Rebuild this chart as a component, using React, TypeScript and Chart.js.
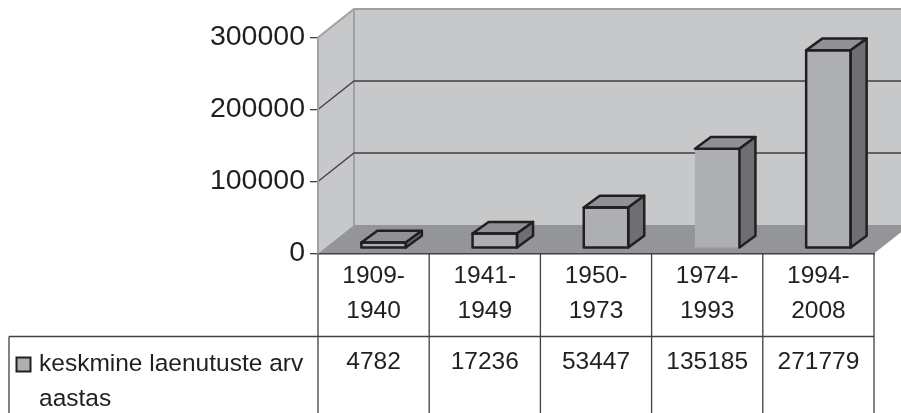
import React, { useEffect, useRef } from "react";
import { Chart, registerables } from "chart.js";

Chart.register(...registerables);

const categories: string[][] = [
  ["1909-", "1940"],
  ["1941-", "1949"],
  ["1950-", "1973"],
  ["1974-", "1993"],
  ["1994-", "2008"],
];
const seriesName: string[] = ["keskmine laenutuste arv", "aastas"];
const seriesValues: number[] = [4782, 17236, 53447, 135185, 271779];
const yTicks: number[] = [0, 100000, 200000, 300000];

const FONT = '"Liberation Sans", Arial, sans-serif';
const INK = "#231f20";
const LINE = "#414042";
const WALL = "#c7c8ca";
const WALL_EDGE = "#a0a1a4";
const FLOOR = "#939598";
const FRONT = "#adafb2";
const TOP = "#8f9195";
const SIDE = "#6d6f72";

const WALL_DX = 36;
const WALL_DY = -28.5;
const BAR_DX = 16;
const BAR_DY = -11.7;
const BAR_SHIFT_X = 10;
const BAR_BASE_UP = 6;
const BAR_TOP_UP = 7.5;
const OPEN_FRONT_BAR = 3;

const poly = (ctx: CanvasRenderingContext2D, pts: number[][]) => {
  ctx.beginPath();
  pts.forEach(([x, y], i) => (i ? ctx.lineTo(x, y) : ctx.moveTo(x, y)));
  ctx.closePath();
};

const scene = {
  id: "scene",
  beforeDraw(chart: any) {
    const { ctx, chartArea: a, scales } = chart;
    const W = chart.width;
    const y = scales.y;
    const top = y.getPixelForValue(300000);
    const bot = y.getPixelForValue(0);
    ctx.save();
    ctx.fillStyle = "#ffffff";
    ctx.fillRect(0, 0, W, chart.height);
    // back wall + left wall
    ctx.fillStyle = WALL;
    ctx.fillRect(a.left + WALL_DX, top + WALL_DY, W - a.left - WALL_DX, bot - top);
    poly(ctx, [
      [a.left, top],
      [a.left + WALL_DX, top + WALL_DY],
      [a.left + WALL_DX, bot + WALL_DY],
      [a.left, bot],
    ]);
    ctx.fill();
    // floor
    ctx.fillStyle = FLOOR;
    poly(ctx, [
      [a.left, bot],
      [a.left + WALL_DX, bot + WALL_DY],
      [W + 5, bot + WALL_DY],
      [a.right + WALL_DX, bot + WALL_DY],
      [a.right, bot],
    ]);
    ctx.fill();
    // wall edges
    ctx.strokeStyle = WALL_EDGE;
    ctx.lineWidth = 2;
    ctx.beginPath();
    ctx.moveTo(a.left, top);
    ctx.lineTo(a.left + WALL_DX, top + WALL_DY);
    ctx.lineTo(W, top + WALL_DY);
    ctx.moveTo(a.left + WALL_DX, top + WALL_DY);
    ctx.lineTo(a.left + WALL_DX, bot + WALL_DY);
    ctx.stroke();
    // gridlines on the walls
    ctx.lineWidth = 1.3;
    ctx.strokeStyle = LINE;
    yTicks.slice(1, -1).forEach((v) => {
      const p = y.getPixelForValue(v);
      ctx.beginPath();
      ctx.moveTo(a.left, p);
      ctx.lineTo(a.left + WALL_DX, p + WALL_DY);
      ctx.lineTo(W, p + WALL_DY);
      ctx.stroke();
    });
    ctx.restore();
  },
  afterDatasetsDraw(chart: any) {
    const { ctx, scales } = chart;
    const y = scales.y;
    const meta = chart.getDatasetMeta(0);
    const base = y.getPixelForValue(0) - BAR_BASE_UP;
    ctx.save();
    ctx.lineJoin = "round";
    ctx.strokeStyle = INK;
    ctx.lineWidth = 2.5;
    meta.data.forEach((bar: any, i: number) => {
      const half = bar.width / 2;
      const l = bar.x + BAR_SHIFT_X - half;
      const r = bar.x + BAR_SHIFT_X + half;
      const t = y.getPixelForValue(seriesValues[i]) - BAR_TOP_UP;
      const topFace = [
        [l, t],
        [l + BAR_DX, t + BAR_DY],
        [r + BAR_DX, t + BAR_DY],
        [r, t],
      ];
      const sideFace = [
        [r, t],
        [r + BAR_DX, t + BAR_DY],
        [r + BAR_DX, base + BAR_DY],
        [r, base],
      ];
      ctx.fillStyle = FRONT;
      ctx.fillRect(l, t, r - l, base - t);
      ctx.fillStyle = TOP;
      poly(ctx, topFace);
      ctx.fill();
      ctx.stroke();
      ctx.fillStyle = SIDE;
      poly(ctx, sideFace);
      ctx.fill();
      ctx.stroke();
      if (i !== OPEN_FRONT_BAR) {
        ctx.strokeRect(l, t, r - l, base - t);
      }
    });
    ctx.restore();
  },
  afterDraw(chart: any) {
    const { ctx, chartArea: a, scales } = chart;
    const x = scales.x;
    const H = chart.height;
    const cell = x.getPixelForValue(1) - x.getPixelForValue(0);
    const rowY = 336.5;
    const tableLeft = 9;
    ctx.save();
    ctx.strokeStyle = LINE;
    ctx.lineWidth = 1.3;
    ctx.beginPath();
    ctx.moveTo(tableLeft, rowY);
    ctx.lineTo(a.right, rowY);
    ctx.moveTo(tableLeft, rowY);
    ctx.lineTo(tableLeft, H);
    for (let i = 0; i <= categories.length; i++) {
      const p = x.getPixelForValue(0) - cell / 2 + i * cell;
      ctx.moveTo(p, a.bottom);
      ctx.lineTo(p, H);
    }
    ctx.stroke();
    ctx.font = `24.5px ${FONT}`;
    ctx.fillStyle = INK;
    ctx.textBaseline = "alphabetic";
    ctx.textAlign = "center";
    seriesValues.forEach((v, i) => {
      ctx.fillText(String(v), x.getPixelForValue(i), 368.5);
    });
    ctx.textAlign = "left";
    ctx.fillText(seriesName[0], 39, 371);
    ctx.fillText(seriesName[1], 39, 406);
    ctx.fillStyle = FRONT;
    ctx.lineWidth = 2;
    ctx.strokeStyle = INK;
    ctx.fillRect(16.5, 357.5, 14, 14);
    ctx.strokeRect(16.5, 357.5, 14, 14);
    ctx.restore();
  },
};

export default function App() {
  const ref = useRef<HTMLCanvasElement>(null);
  useEffect(() => {
    const chart = new Chart(ref.current as HTMLCanvasElement, {
      type: "bar",
      data: {
        labels: categories,
        datasets: [
          {
            label: seriesName.join(" "),
            data: seriesValues,
            backgroundColor: "rgba(0,0,0,0)",
            borderWidth: 0,
            barPercentage: 0.4,
            categoryPercentage: 1,
          },
        ],
      },
      options: {
        responsive: false,
        animation: false,
        layout: { padding: { left: 0, top: 37.5, right: 27, bottom: 59.5 } },
        plugins: { legend: { display: false }, tooltip: { enabled: false } },
        scales: {
          x: {
            afterFit: (s: any) => {
              s.height = 100;
            },
            grid: { display: false, drawTicks: false },
            border: { display: true, color: LINE, width: 1.5 },
            ticks: {
              color: INK,
              padding: 5,
              maxRotation: 0,
              autoSkip: false,
              font: { family: FONT, size: 24.5, lineHeight: 35 / 24.5 },
            },
          },
          y: {
            min: 0,
            max: 300000,
            afterFit: (s: any) => {
              s.width = 318;
            },
            afterBuildTicks: (s: any) => {
              s.ticks = yTicks.map((value) => ({ value }));
            },
            grid: { drawOnChartArea: false, tickLength: 8, color: LINE, lineWidth: 1.3 },
            border: { display: true, color: WALL_EDGE, width: 2 },
            ticks: {
              color: INK,
              padding: 5,
              callback: (v: any) => String(v),
              font: { family: FONT, size: 28.5 },
            },
          },
        },
      },
      plugins: [scene],
    } as any);
    return () => chart.destroy();
  }, []);
  return (
    <div style={{ position: "absolute", left: 0, top: 0, width: 901, height: 413 }}>
      <canvas ref={ref} width={901} height={413} style={{ display: "block" }} />
    </div>
  );
}
